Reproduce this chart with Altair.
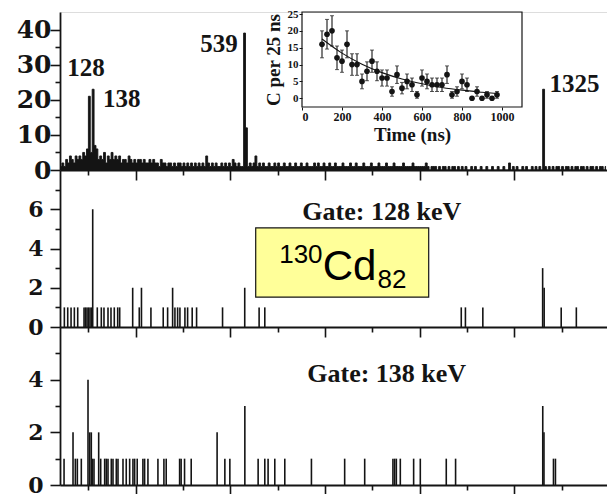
import altair as alt
import pandas as pd

INK = "#141414"
SERIF = "Liberation Serif"
TICKFONT = "DejaVu Serif"
SANS = "Liberation Sans"

# ---------------- data ----------------
# Top panel: singles spectrum, 5 keV bins starting at 50 keV
bin_start = 50
bin_width = 5
top_counts = [
    1, 2, 1, 3, 2, 4, 3, 2, 4, 3,          # 50-100
    4, 3, 5, 4, 6,                         # 100-125
    21, 5, 23, 7, 6,                       # 125-150
    3, 4, 3, 5, 2, 4, 3, 5, 3, 4,          # 150-200
    3, 4, 2, 3, 3, 2, 4, 3, 2, 3,          # 200-250
    2, 3, 3, 2, 3, 2, 2, 3, 2, 3,          # 250-300
    2, 2, 1, 3, 2, 2, 1, 2, 2, 1,          # 300-350
    2, 1, 2, 2, 1, 2, 1, 2, 1, 2,          # 350-400
    1, 2, 1, 2, 1, 2, 1, 4, 2, 1,          # 400-450
    2, 1, 2, 1, 1, 2, 1, 2, 1, 2,          # 450-500
    1, 3, 2, 1, 2, 1, 1,                   # 500-535
    39, 12,                                # 535-545
    1, 2, 1, 2, 4, 1, 2, 1, 2, 1, 1,       # 545-600
    2, 1, 1, 2, 1, 2, 1, 1, 2, 1,          # 600-650
    1, 2, 1, 1, 2, 1, 1, 2, 1, 1,          # 650-700
    2, 1, 1, 1, 2, 1, 2, 1, 1, 2,          # 700-750
    1, 1, 2, 1, 1, 2, 1, 1, 1, 2,          # 750-800
    1, 1, 1, 2, 1, 1, 2, 1, 1, 1,          # 800-850
    2, 1, 1, 1, 2, 1, 1, 1, 2, 1,          # 850-900
    1, 1, 2, 1, 1, 1, 2, 1, 1, 1,          # 900-950
    1, 2, 1, 1, 1, 1, 2, 1, 1, 1,          # 950-1000
    1, 1, 1, 2, 1, 0, 1, 1, 1, 0,          # 1000-1050
    1, 0, 1, 1, 0, 1, 0, 1, 1, 0,          # 1050-1100
    1, 0, 1, 0, 1, 0, 0, 1, 0, 1,          # 1100-1150
    0, 0, 1, 0, 0, 1, 0, 0, 1, 0,          # 1150-1200
    0, 1, 0, 0, 1, 0, 0, 2, 0, 1,          # 1200-1250
    0, 1, 0, 0, 1, 0, 1, 0, 0, 1,          # 1250-1300
    0, 1, 0, 1, 0,                         # 1300-1325
    23, 1,                                 # 1325-1335
    0, 1, 0,                               # 1335-1350
    1, 0, 1, 1, 0, 1, 0, 1, 1, 0,          # 1350-1400
    1, 0, 1, 1, 0, 1, 1, 0, 1, 0,          # 1400-1450
    1, 1, 0, 1, 0, 1, 1, 0, 1,             # 1450-1495
]
top_energy = [bin_start + bin_width * (i + 0.5) for i in range(len(top_counts))]

# Middle panel: gate on 128 keV
g128_energy = [61.5, 70.4, 79.2, 87.9, 96.8, 113.5, 117.4, 121.4, 125.3, 129.3, 133.2,
               136.4, 148.5, 159.1, 166.2, 176.8, 184.7, 193.4, 202.4, 207.7, 242, 259.4,
               265.2, 290.2, 322.7, 334.3, 347.5, 353.6, 360.7, 366.8, 380, 387.1, 399.2,
               410.8, 479.4, 538, 576, 591, 1110, 1121, 1167, 1325, 1329, 1374, 1414]
g128_counts = [1, 1, 1, 1, 1, 1, 1, 1, 1, 1, 1,
               6, 1, 1, 1, 1, 1, 1, 1, 1, 2, 1,
               2, 1, 1, 1, 2, 1, 1, 1, 1, 1, 1,
               1, 1, 2, 1, 1, 1, 1, 1, 3, 2, 1, 1]

# Bottom panel: gate on 138 keV
g138_energy = [60.7, 84.4, 90.5, 95.8, 106.3, 124, 128.5, 132.7, 135.4, 139.8, 152.2,
               157.5, 168, 172.3, 176.8, 185.5, 190, 198.7, 203.2, 216.4, 225, 234,
               242.7, 247.2, 254, 269, 273.5, 282.3, 308.7, 324.5, 330.6, 366, 370,
               379, 396.6, 465, 485.5, 498.7, 538.3, 573.4, 591, 599.7, 617.4, 643.8,
               714.2, 802, 854.9, 929.5, 934, 938.5, 949, 984.2, 1001.8, 1070.4, 1095,
               1325.3, 1328.5, 1353.6, 1358.8]
g138_counts = [1, 2, 1, 1, 1, 4, 2, 2, 1, 1, 2,
               1, 1, 1, 1, 1, 1, 1, 1, 1, 1, 1,
               1, 1, 1, 1, 1, 1, 1, 1, 1, 1, 1,
               1, 1, 2, 1, 1, 3, 1, 1, 1, 1, 1,
               1, 1, 1, 1, 1, 1, 1, 1, 1, 1, 1,
               3, 2, 1, 1]

# Inset: decay curve
inset_time = [100, 125, 150, 175, 200, 225, 250, 275, 300, 325, 350, 375, 400, 425, 450,
              475, 500, 525, 550, 575, 600, 625, 650, 675, 700, 725, 750, 775, 800, 825,
              850, 875, 900, 925, 950, 975]
inset_counts = [16, 19, 20, 12, 11, 16, 10, 10, 5, 8, 11, 8, 6, 6, 2,
                7, 3, 5, 4, 1, 6, 5, 4, 4, 4, 7, 1, 2, 5, 4,
                0, 2, 0, 1, 0, 1]
inset_err = [4, 4.4, 4.5, 3.5, 3.3, 4, 3.2, 3.2, 2.2, 2.8, 3.3, 2.8, 2.4, 2.4, 1.4,
             2.6, 1.7, 2.2, 2, 1, 2.4, 2.2, 2, 2, 2, 2.6, 1, 1.4, 2.2, 2,
             0, 1.4, 0, 1, 0, 1]
fit_time = [100, 200, 300, 400, 500, 600, 700, 800, 900, 975]
fit_counts = [17.6, 13.4, 10.1, 7.6, 5.7, 4.3, 3.2, 2.4, 1.8, 1.4]

# annotations
peak_labels = ["128", "138", "539", "1325"]
peak_label_E = [119, 213, 470, 1409]
peak_label_c = [29.1, 20.3, 36, 24.6]

# ---------------- tables ----------------
top_df = pd.DataFrame({"E": top_energy, "c": top_counts})
mid_df = pd.DataFrame({"E": g128_energy, "c": g128_counts})
bot_df = pd.DataFrame({"E": g138_energy, "c": g138_counts})
lab_df = pd.DataFrame({"E": peak_label_E, "c": peak_label_c, "t": peak_labels})
ins_df = pd.DataFrame({"t": inset_time, "v": inset_counts, "err": inset_err})
ins_df["lo"] = ins_df["v"] - ins_df["err"]
ins_df["hi"] = ins_df["v"] + ins_df["err"]
fit_df = pd.DataFrame({"t": fit_time, "v": fit_counts})

# ---------------- layout ----------------
W, H = 547, 473
X_DOMAIN = [50, 1495]
x_ticks = [125 * k for k in range(1, 12)]

AX = dict(domainColor=INK, domainWidth=1.8, tickColor=INK, tickWidth=1.6,
          grid=False, title=None, labelOverlap=False, labelColor=INK)


def x_enc(offset):
    return alt.X("E:Q", scale=alt.Scale(domain=X_DOMAIN, nice=False, zero=False),
                 axis=alt.Axis(orient="bottom", offset=offset, values=x_ticks, labels=False,
                               tickSize={"condition": {"test": "datum.value % 250 === 0", "value": 10},
                                         "value": 5}, **AX))


def y_enc(domain, rng, values, major, fsize, pad):
    return alt.Y("c:Q", scale=alt.Scale(domain=domain, range=rng, nice=False, zero=False),
                 axis=alt.Axis(orient="left", values=values,
                               labelExpr=f"datum.value % {major} === 0 ? datum.label : ''",
                               tickSize={"condition": {"test": f"datum.value % {major} === 0", "value": 10},
                                         "value": 5},
                               labelFont=TICKFONT, labelFontWeight="bold", labelFontSize=fsize,
                               labelPadding=pad, **AX))


# top panel
xt = x_enc(-(H - 158))
yt = y_enc([0, 45], [158, 0], list(range(0, 41, 5)), 10, 25, -1)
top_area = alt.Chart(top_df).mark_area(interpolate="step", color=INK, opacity=1).encode(
    x=xt, y=yt, y2=alt.datum(0))
top_line = alt.Chart(top_df).mark_line(interpolate="step", color=INK, strokeWidth=0.9).encode(x=xt, y=yt)
top_text = alt.Chart(lab_df).mark_text(font=SERIF, fontWeight="bold", fontSize=25, color=INK,
                                       baseline="middle").encode(x=xt, y=yt, text="t:N")
top = alt.layer(top_area, top_line, top_text)

# middle panel
xm = x_enc(-(H - 315))
ym = y_enc([0, 8], [315, 158], list(range(0, 8)), 2, 22, 7)
mid_rules = alt.Chart(mid_df).mark_rule(color=INK, strokeWidth=1.6).encode(x=xm, y=ym, y2=alt.datum(0))
box_df = pd.DataFrame({"E": [567], "E2": [1024], "c": [1.52], "c2": [5.05]})
mid_box = alt.Chart(box_df).mark_rect(fill="#ffff99", stroke=INK, strokeWidth=1.2).encode(
    x=xm, x2="E2:Q", y=ym, y2="c2:Q")
gate1 = alt.Chart(pd.DataFrame({"E": [900], "c": [5.86], "t": ["Gate: 128 keV"]})).mark_text(
    font=SERIF, fontWeight="bold", fontSize=26, color=INK, baseline="middle").encode(x=xm, y=ym, text="t:N")
cd_df = pd.DataFrame({"E": [815], "c": [2.37]})
cd_main = alt.Chart(cd_df).mark_text(font=SANS, fontSize=42, color="black", baseline="alphabetic",
                                     align="center", text="Cd").encode(x=xm, y=ym)
cd_sup = alt.Chart(cd_df).mark_text(font=SANS, fontSize=26, color="black", baseline="alphabetic",
                                    align="right", dx=-27, dy=-17, text="130").encode(x=xm, y=ym)
cd_sub = alt.Chart(cd_df).mark_text(font=SANS, fontSize=26, color="black", baseline="alphabetic",
                                    align="left", dx=28, dy=8, text="82").encode(x=xm, y=ym)
mid = alt.layer(mid_rules, mid_box, gate1, cd_main, cd_sup, cd_sub)

# bottom panel
xb = x_enc(0)
yb = y_enc([0, 6], [473, 315], list(range(0, 6)), 2, 22, 7)
bot_rules = alt.Chart(bot_df).mark_rule(color=INK, strokeWidth=1.6).encode(x=xb, y=yb, y2=alt.datum(0))
gate2 = alt.Chart(pd.DataFrame({"E": [913], "c": [4.22], "t": ["Gate: 138 keV"]})).mark_text(
    font=SERIF, fontWeight="bold", fontSize=26, color=INK, baseline="middle").encode(x=xb, y=yb, text="t:N")
bot = alt.layer(bot_rules, gate2)

# inset
ix = alt.X("t:Q", scale=alt.Scale(domain=[0, 1100], range=[242, 462], nice=False, zero=False),
           axis=alt.Axis(orient="bottom", offset=-(H - 95), values=[0, 200, 400, 600, 800, 1000],
                         format="d", tickSize=3, domain=False, tickColor=INK, labelColor=INK,
                         labelFont=SERIF, labelFontWeight="bold", labelFontSize=12, labelPadding=1,
                         title="Time (ns)", titleFont=SERIF, titleFontSize=19, titleFontWeight="bold",
                         titleColor=INK, titlePadding=3, grid=False, labelOverlap=False))
iscale = alt.Scale(domain=[-2.6, 25.6], range=[95, 0], nice=False, zero=False)
iaxis = alt.Axis(orient="left", offset=-242, values=[0, 5, 10, 15, 20, 25], tickSize=3, domain=False,
                 tickColor=INK, labelColor=INK, labelFont=SERIF, labelFontWeight="bold",
                 labelFontSize=11, labelPadding=1, title="C per 25 ns", titleFont=SERIF,
                 titleFontSize=19, titleFontWeight="bold", titleColor=INK, titlePadding=4,
                 grid=False, labelOverlap=False)


def iy(field):
    return alt.Y(f"{field}:Q", scale=iscale, axis=iaxis)


frame_df = pd.DataFrame({"t": [0], "t2": [1100], "v": [-2.6], "v2": [25.6]})
i_frame = alt.Chart(frame_df).mark_rect(fill="white", fillOpacity=0, stroke=INK, strokeWidth=1.2).encode(
    x=ix, x2="t2:Q", y=iy("v"), y2="v2:Q")
i_fit = alt.Chart(fit_df).mark_line(color=INK, strokeWidth=1.1, interpolate="monotone").encode(x=ix, y=iy("v"))
i_err = alt.Chart(ins_df).mark_rule(color=INK, strokeWidth=1.1).encode(x=ix, y=iy("lo"), y2="hi:Q")
i_lo = alt.Chart(ins_df).mark_tick(orient="horizontal", color=INK, size=4, thickness=1).encode(x=ix, y=iy("lo"))
i_hi = alt.Chart(ins_df).mark_tick(orient="horizontal", color=INK, size=4, thickness=1).encode(x=ix, y=iy("hi"))
i_pts = alt.Chart(ins_df).mark_point(filled=True, color=INK, size=32, opacity=1).encode(x=ix, y=iy("v"))
inset = alt.layer(i_frame, i_fit, i_err, i_lo, i_hi, i_pts)

chart = alt.layer(top, mid, bot, inset).resolve_scale(x="independent", y="independent").properties(
    width=W, height=H,
    padding={"left": 60, "top": 12, "right": 0, "bottom": 9},
    autosize=alt.AutoSizeParams(type="none"),
).configure_view(stroke=INK, strokeWidth=1.8).configure(background="white")

chart.save("out.html", embed_options={"renderer": "svg", "actions": False})
